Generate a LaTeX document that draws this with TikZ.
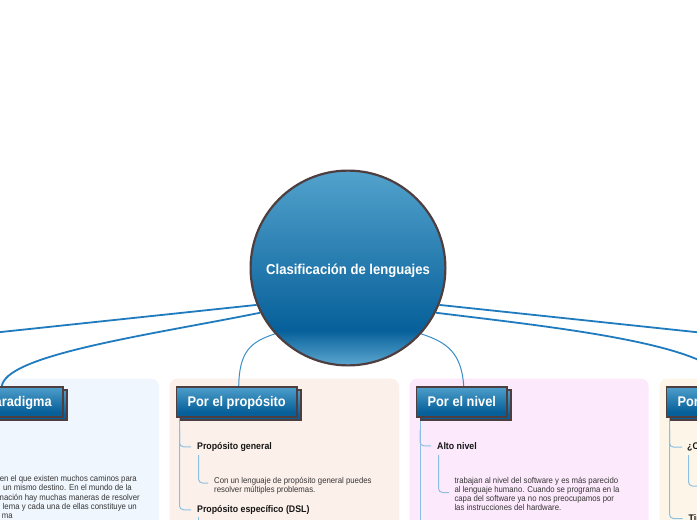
\documentclass[tikz,border=0pt]{standalone}
\usepackage{fontspec}
\setmainfont{Liberation Sans}[FakeStretch=0.915]
\usetikzlibrary{calc}
\definecolor{bordc}{HTML}{4E3E40}
\definecolor{ctop}{HTML}{52A2CC}
\definecolor{cdark}{HTML}{07609A}
\definecolor{cbot}{HTML}{5CA7D0}
\definecolor{btop}{HTML}{4E9FCB}
\definecolor{bbot}{HTML}{07609A}
\definecolor{linkc}{HTML}{1F7BBE}
\definecolor{linkt}{HTML}{3A8FCA}
\definecolor{treec}{HTML}{8CC0E3}
\definecolor{panelA}{HTML}{EFF6FD}
\definecolor{panelB}{HTML}{FCF0EA}
\definecolor{panelC}{HTML}{FCE9FB}
\definecolor{panelD}{HTML}{FDF6E8}
\definecolor{itemc}{HTML}{151515}
\definecolor{parac}{HTML}{363636}
\pgfdeclareverticalshading{circsh}{100bp}{color(0bp)=(cbot); color(25bp)=(cbot); color(34bp)=(cdark); color(75bp)=(ctop); color(100bp)=(ctop)}
\pgfdeclareverticalshading{boxsh}{100bp}{color(0bp)=(bbot); color(25bp)=(bbot); color(33bp)=(bbot); color(75bp)=(btop); color(100bp)=(btop)}
\pgfdeclarelayer{panels}
\pgfdeclarelayer{links}
\pgfsetlayers{panels,links,main}
\begin{document}
\begin{tikzpicture}[x=1pt,y=-1pt,
  hbox/.style={rectangle, draw=bordc, line width=1.5pt, shading=boxsh, text=white,
    font=\fontsize{14}{16}\selectfont\bfseries, inner xsep=11.1pt, inner ysep=3pt,
    minimum height=30.2pt, text height=10pt, text depth=1.7pt},
  panelbg/.style={rounded corners=8pt},
  tree/.style={draw=treec, line width=1pt, rounded corners=4pt},
  itemtxt/.style={font=\fontsize{9.6}{11}\selectfont\bfseries, text=itemc, inner sep=0pt, anchor=base west},
  paratxt/.style={font=\fontsize{8.5}{9.3}\selectfont, text=parac, inner sep=0pt, anchor=base west},
  paratxte/.style={paratxt, anchor=base east},
  biglink/.style={draw=linkc, line width=1.8pt},
  smalllink/.style={draw=linkt, line width=1pt}]
\useasboundingbox (0,0) rectangle (697,520);
\begin{pgfonlayer}{panels}
  \clip (0,0) rectangle (697,520);
  \fill[white] (0,0) rectangle (697,520);
  \fill[panelA, panelbg] (-300,378.5) rectangle (159,700);
  \fill[panelB, panelbg] (169.5,378.5) rectangle (399,700);
  \fill[panelC, panelbg] (409.5,378.5) rectangle (648.5,700);
  \fill[panelD, panelbg] (659.5,378.5) rectangle (950,700);
\end{pgfonlayer}
\begin{scope}
  \clip (0,0) rectangle (697,520);
  % header boxes with their offset copies
  \node[hbox, anchor=east] (parS) at (67.55,404.85) {\phantom{Por el paradigma}};
  \node[hbox, anchor=east] (par) at (63.55,401.85) {Por el paradigma};
  \node[hbox, anchor=west] (propS) at (179.75,404.85) {\phantom{Por el propósito}};
  \node[hbox, anchor=west] (prop) at (175.75,401.85) {Por el propósito};
  \node[hbox, anchor=west] (nivS) at (419.75,404.85) {\phantom{Por el nivel}};
  \node[hbox, anchor=west] (niv) at (415.75,401.85) {Por el nivel};
  \node[hbox, anchor=west] (ejeS) at (669.75,404.85) {\phantom{Por la ejecución}};
  \node[hbox, anchor=west] (eje) at (665.75,401.85) {Por la ejecución};
  % central topic
  \node[circle, draw=bordc, line width=2.2pt, shading=circsh, minimum size=194.8pt,
    inner sep=0pt, text=white, font=\fontsize{14.3}{16}\selectfont\bfseries,
    text height=12.6pt, text depth=0pt] (c) at (348,268) {Clasificación de lenguajes};
  % panel 1 text
  \node[paratxte] (a1) at (137,481.7) {en el que existen muchos caminos para};
  \node[paratxte] (a2) at (132,490.9) {un mismo destino. En el mundo de la};
  \node[paratxte] (a3) at (140,500.1) {nación hay muchas maneras de resolver};
  \node[paratxte] (a4) at (137,509.3) {lema y cada una de ellas constituye un};
  \node[paratxte] (a5) at (13,518.5) {ma};
  % panel 2
  \node[itemtxt] (pg) at (197,449.3) {Propósito general};
  \node[paratxt] (pg1) at (214,483) {Con un lenguaje de propósito general puedes};
  \node[paratxt] (pg2) at (214,492.2) {resolver múltiples problemas.};
  \node[itemtxt] (pe) at (197,512.3) {Propósito específico (DSL)};
  % panel 3
  \node[itemtxt] (an) at (437,449.3) {Alto nivel};
  \node[paratxt] (an1) at (454.3,483) {trabajan al nivel del software y es más parecido};
  \node[paratxt] (an2) at (454.3,492.3) {al lenguaje humano. Cuando se programa en la};
  \node[paratxt] (an3) at (454.3,501.6) {capa del software ya no nos preocupamos por};
  \node[paratxt] (an4) at (454.3,510.9) {las instrucciones del hardware.};
  % panel 4
  \node[itemtxt] (cq) at (687,449.6) {¿Compilado o interpretado?};
  \node[itemtxt] (ti) at (688.5,521) {Tipos};
\end{scope}
\begin{pgfonlayer}{links}
  \clip (0,0) rectangle (697,520);
  \coordinate (offL) at (-100,342.7);
  \coordinate (offR) at (796,342.7);
  \draw[biglink] (c.202.2) -- (offL);
  \draw[biglink] (c.207) .. controls (150,335) and (2,355) .. ($(par.north)!.5!(parS.north)$);
  \draw[smalllink] (c.222.6) .. controls (250,342) and (239,352) .. ($(prop.north)!.5!(propS.north)$);
  \draw[smalllink] (c.318) .. controls (446,342) and (462,352) .. ($(niv.north)!.5!(nivS.north)$);
  \draw[biglink] (c.-22.2) -- (offR);
  \draw[biglink] (c.333) .. controls (560,328) and (725,345) .. ($(eje.north)!.5!(ejeS.north)$);
  % panel 2 tree
  \draw[tree] (179.5,418) |- ([xshift=-6pt]pe.west);
  \draw[tree] (179.5,430) |- ([xshift=-6pt]pg.west);
  \coordinate (k1) at (198.5,455);
  \coordinate (k1e) at (208,483);
  \draw[tree] (k1) |- (k1e);
  \coordinate (k2) at (198.5,517);
  \coordinate (k2e) at (198.5,530);
  \draw[tree] (k2) -- (k2e);
  % panel 3 tree
  \coordinate (m3) at (420,418);
  \coordinate (m3e) at (420,530);
  \draw[tree] (m3) -- (m3e);
  \draw[tree] (420,430) |- ([xshift=-6pt]an.west);
  \coordinate (k3) at (438.5,455);
  \coordinate (k3e) at (449,492.5);
  \draw[tree] (k3) |- (k3e);
  % panel 4 tree
  \draw[tree] (669.5,418) |- ([xshift=-6pt]ti.west);
  \draw[tree] (669.5,430) |- ([xshift=-5pt]cq.west);
  \coordinate (k4) at (688.5,455);
  \coordinate (k4e) at (710,486);
  \draw[tree] (k4) |- (k4e);
\end{pgfonlayer}
\end{tikzpicture}
\end{document}
